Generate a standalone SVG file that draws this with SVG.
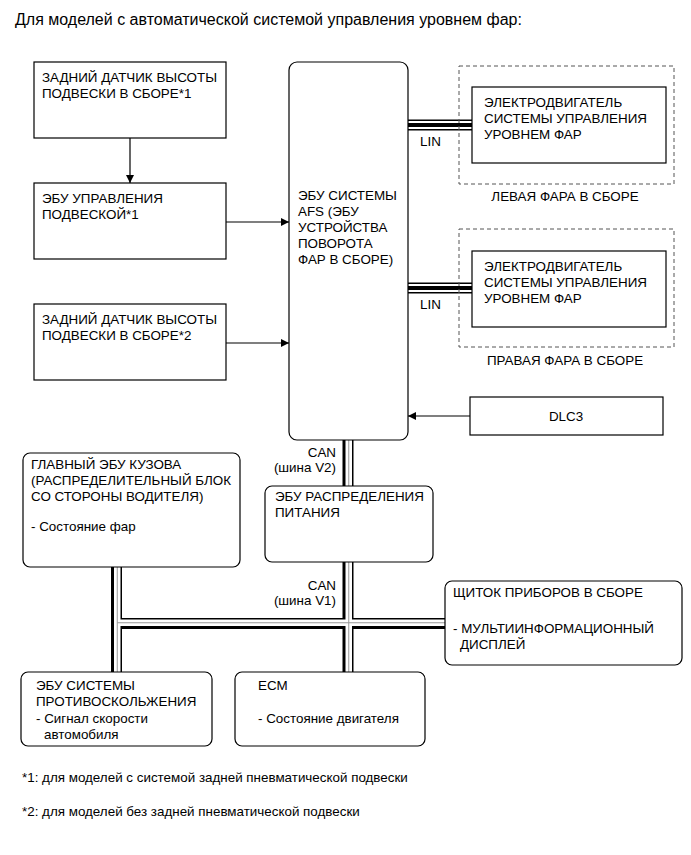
<svg xmlns="http://www.w3.org/2000/svg" width="691" height="855" viewBox="0 0 691 855">
<defs>
<marker id="arr" viewBox="0 0 10 10" refX="10" refY="5" markerWidth="9" markerHeight="8" markerUnits="userSpaceOnUse" orient="auto"><path d="M0,0 L10,5 L0,10 z" fill="#000"/></marker>
</defs>
<style>
text{font-family:"Liberation Sans",Arial,sans-serif;font-size:13.4px;fill:#000}
.title{font-size:16px}
.foot{font-size:13.4px}
.box{fill:#fff;stroke:#000;stroke-width:1.2}
.dash{fill:none;stroke:#555;stroke-width:1;stroke-dasharray:4 3}
.arrow{stroke:#000;stroke-width:1.2;fill:none;marker-end:url(#arr)}
.busb{stroke:#000;stroke-width:11;fill:none}
.busw{stroke:#fff;stroke-width:6.5;fill:none}
.busg{stroke:#999;stroke-width:1;fill:none}
.linb{stroke:#000;stroke-width:11;fill:none}
.linw{stroke:#fff;stroke-width:8;fill:none}
.linc{stroke:#000;stroke-width:4;fill:none}
.r{text-anchor:end}
.m{text-anchor:middle}
</style>
<text class="title" x="15" y="25">Для моделей с автоматической системой управления уровнем фар:</text>

<g id="connectors">
  <path class="busb" d="M348,440 V487 M348,561 V672 M116.5,566 V672 M116.5,623.5 H446"/>
  <path class="busw" d="M348.75,440 V487 M348.75,561 V672 M117.25,566 V672 M114,622.75 H446"/>
  <path class="busg" d="M348.75,440 V487 M348.75,561 V672 M117.25,566 V672 M117.25,622.75 H446"/>
  <path class="linb" d="M408,125 H473 M408,288 H473"/>
  <path class="linw" d="M408,125 H473 M408,288 H473"/>
  <path class="linc" d="M408,125 H473 M408,288 H473"/>
  <path class="arrow" d="M130,138 V183"/>
  <path class="arrow" d="M226,222 H289"/>
  <path class="arrow" d="M226,343 H289"/>
  <path class="arrow" d="M470,416 H408"/>
  <text x="420" y="146">LIN</text>
  <text x="420" y="309">LIN</text>
  <text class="r" x="336" y="457">CAN</text>
  <text class="r" x="336" y="472">(шина V2)</text>
  <text class="r" x="336" y="590">CAN</text>
  <text class="r" x="336" y="605">(шина V1)</text>
</g>

<g id="rear-sensor-1">
  <rect class="box" x="34" y="62" width="192" height="76"/>
  <text x="42" y="82">ЗАДНИЙ ДАТЧИК ВЫСОТЫ</text>
  <text x="42" y="98">ПОДВЕСКИ В СБОРЕ*1</text>
</g>
<g id="suspension-ecu">
  <rect class="box" x="34" y="183" width="192" height="76"/>
  <text x="42" y="203">ЭБУ УПРАВЛЕНИЯ</text>
  <text x="42" y="219">ПОДВЕСКОЙ*1</text>
</g>
<g id="rear-sensor-2">
  <rect class="box" x="34" y="304" width="192" height="76"/>
  <text x="42" y="324">ЗАДНИЙ ДАТЧИК ВЫСОТЫ</text>
  <text x="42" y="340">ПОДВЕСКИ В СБОРЕ*2</text>
</g>
<g id="afs-ecu">
  <rect class="box" x="289" y="62" width="119" height="378" rx="8"/>
  <text x="298" y="200">ЭБУ СИСТЕМЫ</text>
  <text x="298" y="216">AFS (ЭБУ</text>
  <text x="298" y="232">УСТРОЙСТВА</text>
  <text x="298" y="248">ПОВОРОТА</text>
  <text x="298" y="264">ФАР В СБОРЕ)</text>
</g>
<g id="left-headlamp">
  <rect class="dash" x="459" y="66" width="215" height="118"/>
  <rect class="box" x="472" y="87" width="194" height="76"/>
  <text x="484" y="107">ЭЛЕКТРОДВИГАТЕЛЬ</text>
  <text x="484" y="123">СИСТЕМЫ УПРАВЛЕНИЯ</text>
  <text x="484" y="139">УРОВНЕМ ФАР</text>
  <text class="m" x="565" y="201">ЛЕВАЯ ФАРА В СБОРЕ</text>
</g>
<g id="right-headlamp">
  <rect class="dash" x="459" y="229" width="215" height="118"/>
  <rect class="box" x="472" y="251" width="194" height="76"/>
  <text x="484" y="271">ЭЛЕКТРОДВИГАТЕЛЬ</text>
  <text x="484" y="287">СИСТЕМЫ УПРАВЛЕНИЯ</text>
  <text x="484" y="303">УРОВНЕМ ФАР</text>
  <text class="m" x="565" y="365">ПРАВАЯ ФАРА В СБОРЕ</text>
</g>
<g id="dlc3">
  <rect class="box" x="470" y="397" width="193" height="38"/>
  <text class="m" x="566" y="421">DLC3</text>
</g>
<g id="main-body-ecu">
  <rect class="box" x="23" y="453" width="217" height="114" rx="7"/>
  <text x="31" y="469">ГЛАВНЫЙ ЭБУ КУЗОВА</text>
  <text x="31" y="485">(РАСПРЕДЕЛИТЕЛЬНЫЙ БЛОК</text>
  <text x="31" y="501">СО СТОРОНЫ ВОДИТЕЛЯ)</text>
  <text x="31" y="531">- Состояние фар</text>
</g>
<g id="power-dist-ecu">
  <rect class="box" x="265" y="486" width="168" height="76" rx="7"/>
  <text x="275" y="501">ЭБУ РАСПРЕДЕЛЕНИЯ</text>
  <text x="275" y="517">ПИТАНИЯ</text>
</g>
<g id="combination-meter">
  <rect class="box" x="445" y="581" width="237" height="84" rx="7"/>
  <text x="453" y="597">ЩИТОК ПРИБОРОВ В СБОРЕ</text>
  <text x="453" y="633">- МУЛЬТИИНФОРМАЦИОННЫЙ</text>
  <text x="460" y="649">ДИСПЛЕЙ</text>
</g>
<g id="skid-control-ecu">
  <rect class="box" x="21" y="672" width="191" height="74" rx="7"/>
  <text x="36" y="690">ЭБУ СИСТЕМЫ</text>
  <text x="36" y="706">ПРОТИВОСКОЛЬЖЕНИЯ</text>
  <text x="36" y="723">- Сигнал скорости</text>
  <text x="44" y="739">автомобиля</text>
</g>
<g id="ecm">
  <rect class="box" x="235" y="672" width="190" height="74" rx="7"/>
  <text x="258" y="690">ECM</text>
  <text x="258" y="723">- Состояние двигателя</text>
</g>
<text class="foot" x="22" y="782">*1: для моделей с системой задней пневматической подвески</text>
<text class="foot" x="22" y="816">*2: для моделей без задней пневматической подвески</text>
</svg>
